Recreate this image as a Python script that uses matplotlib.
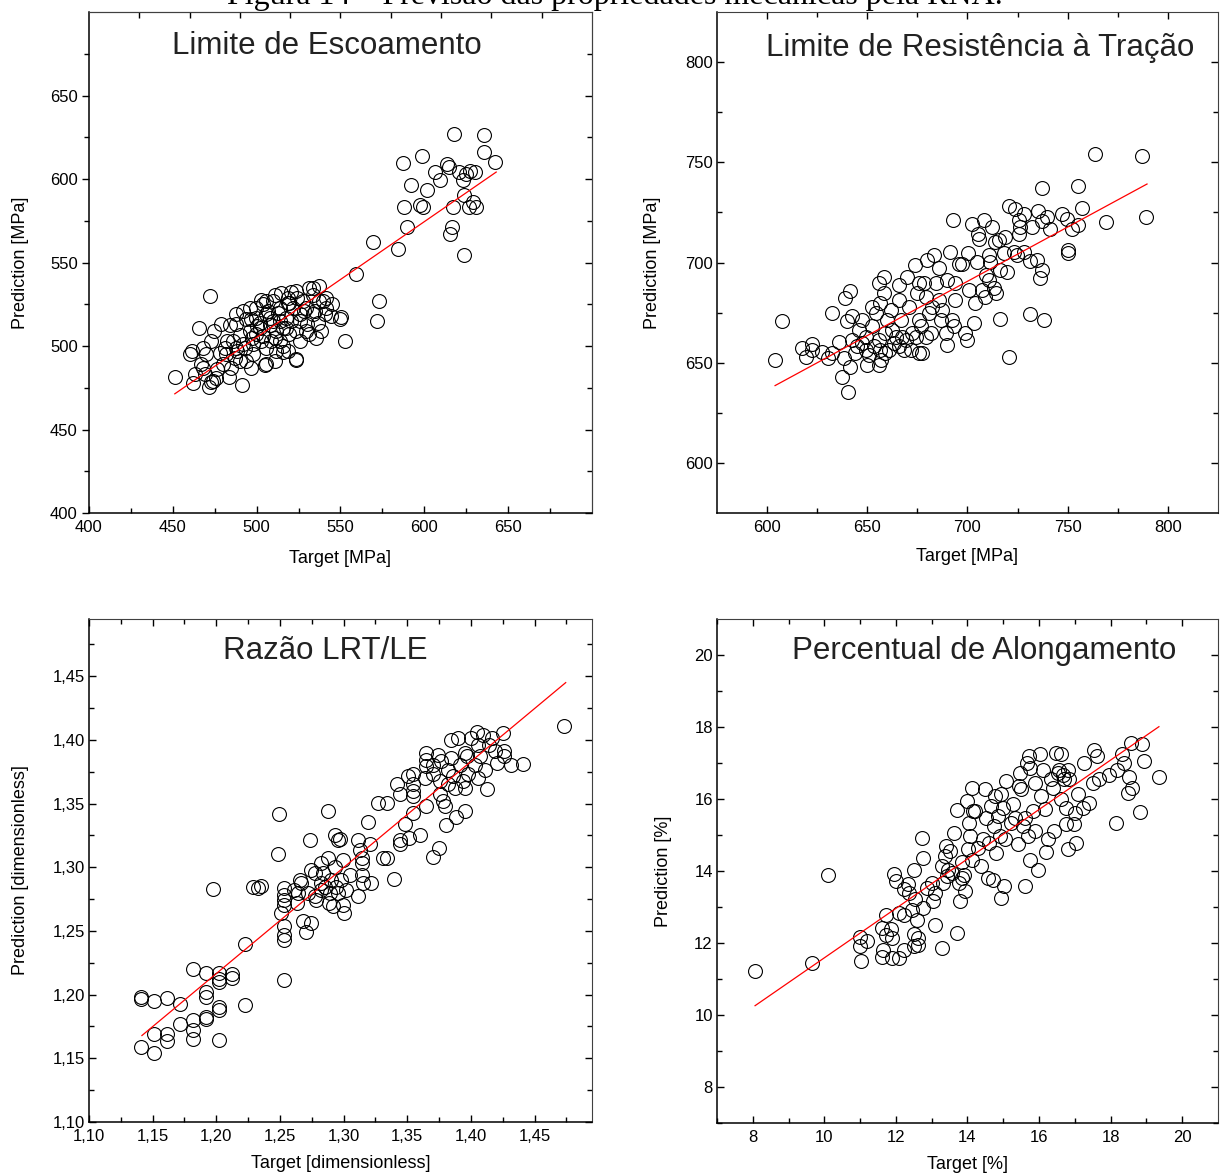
import matplotlib.pyplot as plt
from matplotlib.ticker import FixedLocator

plt.rcParams['font.family'] = ['Liberation Sans', 'DejaVu Sans']

# Limite de Escoamento (target, prediction) in MPa
le_target = [617.9, 635.7, 635.7, 642.3, 587.5, 598.8, 606.5, 613.7, 614.9, 620.8,
             625.0, 627.4, 630.4, 623.2, 609.5, 592.3, 601.8, 599.4, 588.0, 617.3,
             623.8, 626.8, 631.0, 629.2, 597.6, 589.9, 616.7, 615.5, 623.8, 584.5,
             569.6, 573.2, 572.0, 559.5, 553.0, 550.6, 472.0,
             451.2, 462.1, 471.4, 465.7, 460.5, 461.7, 468.0, 474.0, 475.6, 470.0,
             473.0, 474.4, 479.0, 482.3, 483.3, 491.3, 486.9, 491.9, 495.8, 487.9,
             489.9, 493.8, 496.8, 497.8, 496.8, 502.7, 503.7, 505.8, 505.2, 510.7,
             509.7, 514.3, 520.6, 523.6, 519.6, 515.7, 518.6, 523.6, 523.6, 531.2,
             533.5, 537.1, 539.5, 541.5, 540.5, 544.5, 550.0, 535.5, 538.5, 536.5,
             529.5, 525.6, 517.6, 513.7, 511.7, 507.7, 501.8, 499.8, 495.8, 502.7,
             508.7, 513.7, 519.6, 523.6, 517.6, 521.6, 513.7, 505.8, 499.8, 485.9,
             487.9, 481.9, 478.0, 479.9, 484.9, 489.9, 492.9, 497.8, 505.8, 511.7,
             525.6, 531.5, 533.5, 529.5, 527.5, 537.5, 541.5, 467.0, 469.0, 473.0,
             463.1, 468.0, 487.9, 483.9, 493.8, 499.8, 509.7, 510.7, 518.6, 505.8,
             533.5, 500.5, 504.0, 508.0, 512.5, 516.0, 520.5, 526.0, 530.0, 497.0,
             502.0, 507.0, 511.0, 515.5, 519.0, 524.0, 528.0, 492.0, 488.0, 481.0,
             476.5, 535.0, 545.0]
le_pred = [626.8, 626.2, 616.0, 610.0, 609.5, 613.7, 604.0, 609.0, 607.0, 604.0,
           603.0, 605.0, 604.0, 599.4, 599.4, 596.4, 593.5, 583.3, 583.3, 583.3,
           590.5, 583.3, 583.3, 586.3, 584.5, 571.4, 571.4, 567.3, 554.8, 558.3,
           562.5, 526.8, 514.9, 542.9, 503.0, 517.3, 529.8,
           481.5, 477.6, 475.6, 510.9, 495.1, 497.0, 487.1, 479.2, 481.0, 495.0,
           503.0, 509.0, 513.3, 503.0, 481.5, 476.8, 493.0, 520.8, 522.8, 513.3,
           506.9, 491.1, 487.1, 495.0, 516.0, 527.8, 525.2, 489.1, 488.5, 491.1,
           526.8, 531.7, 532.3, 532.7, 525.8, 496.4, 496.9, 491.5, 492.5, 534.7,
           530.8, 535.7, 526.8, 522.8, 518.9, 517.9, 516.0, 505.0, 509.0, 513.9,
           509.0, 514.9, 516.8, 514.9, 509.0, 512.9, 510.9, 507.0, 509.0, 503.0,
           503.0, 503.0, 507.0, 509.0, 510.9, 522.8, 522.8, 518.9, 516.8, 503.0,
           499.0, 495.0, 496.0, 489.1, 487.1, 491.1, 499.0, 501.0, 499.0, 497.0,
           503.0, 507.0, 518.9, 522.8, 526.8, 526.8, 528.8, 489.1, 483.2, 478.2,
           483.2, 499.0, 518.9, 512.9, 516.4, 522.8, 514.9, 530.8, 528.8, 526.8,
           534.7, 512.0, 506.0, 517.0, 520.0, 511.0, 515.0, 519.0, 513.0, 505.0,
           514.0, 521.0, 505.0, 500.0, 526.0, 529.0, 521.0, 501.0, 497.0, 499.0,
           486.0, 521.0, 525.0]
le_fit_x = [451.2, 642.9]
le_fit_y = [471.4, 604.2]

# Limite de Resistencia a Tracao
lrt_target = [603.8, 607.3, 617.3, 619.3, 622.3, 622.3, 627.6, 630.6, 632.5, 632.5,
              635.8, 637.2, 638.3, 638.8, 640.5, 641.3, 641.6, 640.0, 642.5, 642.5,
              643.8, 645.0, 647.5, 645.9, 647.5, 649.2, 650.0, 650.8, 652.5, 653.3,
              654.2, 655.8, 655.8, 656.6, 657.1, 658.3, 658.3, 659.1, 660.0, 660.8,
              661.6, 662.4, 663.3, 665.8, 665.8, 666.6, 667.4, 668.3, 669.9, 670.8,
              671.6, 672.5, 673.8, 675.0, 675.8, 675.8, 676.6, 677.5, 678.3, 679.1,
              680.0, 680.8, 681.6, 683.3, 684.1, 685.8, 686.6, 687.5, 689.1, 689.9,
              689.9, 691.5, 692.4, 692.9, 693.2, 694.0, 694.0, 695.7, 697.3, 699.0,
              699.8, 700.3, 700.7, 702.3, 703.7, 703.3, 704.8, 705.3, 705.6, 707.3,
              708.1, 709.0, 709.3, 710.6, 710.6, 711.4, 712.3, 713.1, 713.6, 714.0,
              715.6, 716.1, 716.4, 718.1, 718.9, 719.7, 720.5, 720.9, 723.0, 723.9,
              724.7, 725.5, 725.9, 726.4, 728.0, 728.0, 731.0, 731.3, 732.2, 734.7,
              735.2, 736.3, 737.1, 737.1, 737.1, 738.2, 739.5, 741.2, 747.0, 749.5,
              750.0, 750.0, 752.3, 755.3, 755.3, 757.3, 763.6, 769.0, 787.3, 789.3,
              649.2, 652.5, 655.8, 659.1, 664.1, 669.1, 674.1, 675.8, 682.4, 685.8,
              679.1, 656.6, 665.8]
lrt_pred = [651.3, 670.9, 657.2, 652.7, 659.3, 656.4, 655.2, 652.2, 674.9, 654.7,
            660.5, 642.8, 652.2, 682.4, 635.3, 685.9, 647.8, 670.6, 673.1, 661.5,
            654.9, 658.2, 671.4, 666.4, 659.9, 656.5, 649.1, 654.1, 678.0, 658.2,
            674.7, 649.1, 689.6, 679.7, 651.6, 692.9, 684.6, 664.7, 671.4, 656.5,
            676.4, 666.4, 659.9, 688.8, 681.3, 671.4, 663.1, 656.5, 692.9, 678.0,
            656.5, 664.7, 699.0, 684.6, 689.6, 671.4, 668.1, 654.9, 689.6, 683.0,
            701.1, 674.7, 664.7, 703.6, 689.6, 697.1, 671.4, 676.4, 664.7, 658.9,
            691.3, 705.3, 671.4, 721.4, 668.1, 681.3, 689.6, 699.5, 699.5, 664.7,
            661.5, 704.8, 686.3, 719.4, 680.0, 669.8, 700.3, 714.4, 711.9, 686.3,
            721.0, 683.0, 693.8, 703.6, 691.3, 700.3, 717.7, 687.1, 710.3, 684.6,
            711.1, 671.7, 696.3, 704.6, 712.8, 695.5, 652.9, 728.2, 705.3, 726.6,
            703.6, 721.0, 714.4, 717.7, 724.3, 705.3, 700.8, 674.1, 717.7, 701.1,
            725.9, 692.1, 737.1, 696.3, 720.9, 671.4, 722.6, 716.8, 724.3, 721.8,
            706.1, 704.8, 716.8, 718.5, 738.0, 727.1, 754.0, 720.2, 753.1, 722.6,
            663.1, 668.1, 661.5, 654.9, 663.1, 661.5, 663.1, 654.9, 678.0, 681.3,
            663.1, 656.5, 658.2]
lrt_fit_x = [604.0, 789.6]
lrt_fit_y = [638.6, 739.2]

# Razao LRT/LE
raz_target = [1.1411, 1.1411, 1.1411, 1.1513, 1.1513, 1.1513, 1.1616, 1.1616, 1.1616, 1.1714,
              1.1714, 1.1819, 1.1819, 1.1819, 1.1819, 1.1919, 1.1919, 1.1919, 1.1919, 1.1919,
              1.1972, 1.2019, 1.2019, 1.2019, 1.2019, 1.2019, 1.2019, 1.2122, 1.2122, 1.2224,
              1.2224, 1.2285, 1.2324, 1.2351, 1.2483, 1.2496, 1.2509, 1.2530, 1.2530, 1.2530,
              1.2530, 1.2530, 1.2530, 1.2530, 1.2530, 1.2614, 1.2635, 1.2654, 1.2680, 1.2701,
              1.2733, 1.2741, 1.2746, 1.2772, 1.2786, 1.2825, 1.2838, 1.2851, 1.2878, 1.2878,
              1.2883, 1.2904, 1.2917, 1.2935, 1.2943, 1.2956, 1.2970, 1.2983, 1.2996, 1.2996,
              1.3004, 1.3022, 1.3049, 1.3109, 1.3109, 1.3128, 1.3141, 1.3141, 1.3141, 1.3154,
              1.3194, 1.3207, 1.3212, 1.3270, 1.3310, 1.3344, 1.3344, 1.3397, 1.3423, 1.3444,
              1.3444, 1.3444, 1.3481, 1.3507, 1.3515, 1.3544, 1.3544, 1.3544, 1.3544, 1.3544,
              1.3597, 1.3636, 1.3649, 1.3649, 1.3649, 1.3649, 1.3702, 1.3702, 1.3702, 1.3741,
              1.3749, 1.3754, 1.3754, 1.3767, 1.3780, 1.3799, 1.3802, 1.3820, 1.3820, 1.3846,
              1.3846, 1.3859, 1.3872, 1.3886, 1.3899, 1.3912, 1.3938, 1.3952, 1.3952, 1.3957,
              1.3965, 1.3978, 1.4004, 1.4030, 1.4044, 1.4057, 1.4057, 1.4070, 1.4096, 1.4109,
              1.4122, 1.4141, 1.4162, 1.4188, 1.4201, 1.4254, 1.4262, 1.4262, 1.4314, 1.4412,
              1.4733, 1.2667, 1.2720, 1.2825, 1.2891, 1.2930, 1.2956, 1.2772, 1.2641, 1.2825]
raz_pred = [1.1968, 1.1980, 1.1586, 1.1952, 1.1688, 1.1541, 1.1973, 1.1688, 1.1636, 1.1929,
            1.1769, 1.2201, 1.1800, 1.1722, 1.1650, 1.2170, 1.2020, 1.1980, 1.1826, 1.1808,
            1.2829, 1.2170, 1.2124, 1.2098, 1.1904, 1.1878, 1.1645, 1.2163, 1.2129, 1.2395,
            1.1922, 1.2849, 1.2836, 1.2854, 1.3107, 1.3418, 1.2642, 1.2836, 1.2785, 1.2746,
            1.2707, 1.2539, 1.2466, 1.2430, 1.2111, 1.2823, 1.2720, 1.2901, 1.2578, 1.2495,
            1.3216, 1.2978, 1.2565, 1.2772, 1.2746, 1.3030, 1.2952, 1.2849, 1.3069, 1.3444,
            1.2720, 1.2901, 1.2694, 1.3250, 1.2849, 1.3216, 1.3224, 1.2901, 1.3056, 1.2707,
            1.2642, 1.2823, 1.2939, 1.3211, 1.2777, 1.3133, 1.3069, 1.3030, 1.2939, 1.2875,
            1.3358, 1.3185, 1.2875, 1.3501, 1.3069, 1.3501, 1.3069, 1.2906, 1.3651, 1.3573,
            1.3211, 1.3180, 1.3340, 1.3716, 1.3232, 1.3729, 1.3651, 1.3599, 1.3560, 1.3423,
            1.3250, 1.3703, 1.3483, 1.3897, 1.3845, 1.3793, 1.3082, 1.3806, 1.3729, 1.3884,
            1.3154, 1.3677, 1.3573, 1.3832, 1.3521, 1.3483, 1.3333, 1.3767, 1.3651, 1.4000,
            1.3858, 1.3716, 1.3625, 1.3397, 1.4018, 1.3806, 1.3677, 1.3897, 1.3620, 1.3439,
            1.3871, 1.3729, 1.4013, 1.3806, 1.4065, 1.3703, 1.3962, 1.3871, 1.4039, 1.3760,
            1.3612, 1.3962, 1.4013, 1.3910, 1.3819, 1.4052, 1.3910, 1.3871, 1.3806, 1.3812,
            1.4111, 1.2875, 1.2798, 1.2823, 1.2798, 1.3004, 1.2798, 1.2952, 1.2798, 1.2875]
raz_fit_x = [1.1416, 1.4744]
raz_fit_y = [1.1679, 1.4450]

# Percentual de Alongamento
al_target = [8.06, 9.65, 10.09, 10.99, 10.99, 11.03, 11.20, 11.60, 11.60, 11.64,
             11.71, 11.73, 11.85, 11.88, 11.89, 11.94, 11.99, 12.08, 12.08, 12.22,
             12.22, 12.24, 12.34, 12.36, 12.45, 12.50, 12.50, 12.52, 12.54, 12.59,
             12.62, 12.63, 12.73, 12.75, 12.75, 12.87, 13.00, 13.03, 13.08, 13.10,
             13.28, 13.28, 13.33, 13.38, 13.39, 13.42, 13.47, 13.51, 13.56, 13.63,
             13.70, 13.70, 13.75, 13.79, 13.84, 13.84, 13.89, 13.93, 13.98, 14.01,
             14.04, 14.07, 14.12, 14.12, 14.16, 14.21, 14.30, 14.39, 14.44, 14.49,
             14.51, 14.58, 14.60, 14.67, 14.72, 14.75, 14.77, 14.81, 14.86, 14.90,
             14.95, 14.95, 14.99, 15.03, 15.04, 15.09, 15.23, 15.28, 15.34, 15.40,
             15.43, 15.46, 15.51, 15.55, 15.60, 15.62, 15.65, 15.69, 15.72, 15.74,
             15.74, 15.83, 15.88, 15.90, 15.97, 16.02, 16.06, 16.11, 16.16, 16.20,
             16.25, 16.34, 16.39, 16.42, 16.48, 16.53, 16.57, 16.62, 16.62, 16.66,
             16.71, 16.76, 16.76, 16.80, 16.82, 16.85, 16.99, 17.01, 17.04, 17.08,
             17.22, 17.27, 17.41, 17.50, 17.53, 17.62, 17.68, 17.96, 18.15, 18.19,
             18.33, 18.38, 18.49, 18.51, 18.59, 18.57, 18.82, 18.89, 18.94, 19.35]
al_pred = [11.23, 11.44, 13.88, 12.17, 11.91, 11.49, 12.05, 12.42, 11.61, 11.82,
           12.21, 12.79, 12.40, 11.59, 12.14, 13.93, 13.72, 12.84, 11.59, 11.80,
           13.49, 12.79, 13.63, 13.39, 12.93, 12.24, 11.91, 14.02, 13.21, 12.65,
           12.14, 11.95, 14.92, 14.37, 12.98, 13.53, 13.67, 13.16, 12.51, 13.39,
           14.14, 11.86, 13.67, 14.41, 14.69, 13.86, 14.04, 14.55, 13.95, 15.06,
           12.28, 15.69, 13.67, 13.16, 14.25, 13.81, 13.90, 13.44, 15.94, 14.60,
           15.34, 14.97, 16.31, 14.32, 15.66, 15.66, 14.64, 14.14, 14.88, 16.27,
           15.48, 13.81, 14.79, 15.80, 13.76, 15.25, 16.08, 14.51, 15.53, 14.97,
           16.13, 13.25, 15.76, 13.58, 14.88, 16.50, 15.34, 15.85, 15.48, 14.74,
           16.36, 16.73, 16.27, 15.25, 15.48, 13.58, 17.01, 14.97, 17.19, 14.30,
           16.87, 15.66, 16.45, 15.11, 14.04, 17.24, 16.08, 16.82, 15.71, 14.53,
           14.88, 16.55, 16.31, 15.11, 17.28, 16.73, 16.82, 17.24, 15.99, 16.68,
           16.55, 15.76, 15.32, 16.82, 14.62, 16.55, 15.30, 15.62, 14.79, 16.13,
           15.76, 17.01, 15.90, 16.45, 17.36, 17.19, 16.55, 16.68, 15.34, 16.82,
           17.24, 17.01, 16.17, 16.62, 16.31, 17.55, 15.65, 17.52, 17.05, 16.62]
al_fit_x = [8.065, 19.35]
al_fit_y = [10.26, 18.01]

raz_labels = ['1,10', '1,15', '1,20', '1,25', '1,30', '1,35', '1,40', '1,45']

fig = plt.figure(figsize=(12.22, 11.74), dpi=100)

# caption of the page, mostly cut off at the top
fig.text(0.503, 0.9962, 'Figura 14 – Previsão das propriedades mecânicas pela RNA.',
         family='Liberation Serif', fontsize=23, ha='center', va='baseline')

panels = [
    dict(pos=[0.0728, 0.5630, 0.4116, 0.4267], x=le_target, y=le_pred, fx=le_fit_x, fy=le_fit_y,
         lim=(400, 700), major=[400, 450, 500, 550, 600, 650], minor=[425, 475, 525, 575, 625, 675],
         top=[430, 460, 490, 520, 550, 580, 610, 640, 670], labels=None,
         title='Limite de Escoamento', tpos=(0.473, 0.932),
         xlabel='Target [MPa]', ylabel='Prediction [MPa]', xl=-0.090, yl=-0.137, ydir='out'),
    dict(pos=[0.5867, 0.5630, 0.4100, 0.4267], x=lrt_target, y=lrt_pred, fx=lrt_fit_x, fy=lrt_fit_y,
         lim=(575, 825), major=[600, 650, 700, 750, 800], minor=[625, 675, 725, 775],
         top=None, labels=None,
         title='Limite de Resistência à Tração', tpos=(0.525, 0.928),
         xlabel='Target [MPa]', ylabel='Prediction [MPa]', xl=-0.086, yl=-0.128, ydir='in'),
    dict(pos=[0.0728, 0.0443, 0.4116, 0.4285], x=raz_target, y=raz_pred, fx=raz_fit_x, fy=raz_fit_y,
         lim=(1.10, 1.495), major=[1.10, 1.15, 1.20, 1.25, 1.30, 1.35, 1.40, 1.45],
         minor=[1.125, 1.175, 1.225, 1.275, 1.325, 1.375, 1.425, 1.475],
         top=None, labels=raz_labels,
         title='Razão LRT/LE', tpos=(0.469, 0.936),
         xlabel='Target [dimensionless]', ylabel='Prediction [dimensionless]', xl=-0.082, yl=-0.137, ydir='in'),
    dict(pos=[0.5867, 0.0434, 0.4100, 0.4293], x=al_target, y=al_pred, fx=al_fit_x, fy=al_fit_y,
         lim=(7, 21), major=[8, 10, 12, 14, 16, 18, 20], minor=[7, 9, 11, 13, 15, 17, 19],
         top=None, labels=None,
         title='Percentual de Alongamento', tpos=(0.533, 0.936),
         xlabel='Target [%]', ylabel='Prediction [%]', xl=-0.083, yl=-0.106, ydir='in'),
]

for p in panels:
    ax = fig.add_axes(p['pos'])
    ax.plot(p['x'], p['y'], 'o', mfc='none', mec='black', ms=10, mew=0.8, ls='none')
    ax.plot(p['fx'], p['fy'], color='red', lw=0.9)
    ax.set_xlim(p['lim'])
    ax.set_ylim(p['lim'])
    ax.set_xticks(p['major'])
    ax.set_yticks(p['major'])
    ax.xaxis.set_minor_locator(FixedLocator(p['minor']))
    ax.yaxis.set_minor_locator(FixedLocator(p['minor']))
    if p['labels'] is not None:
        ax.set_xticklabels(p['labels'])
        ax.set_yticklabels(p['labels'])
    ax.tick_params(axis='x', which='both', direction='in', labelsize=12, pad=5,
                   top=(p['top'] is None))
    ax.tick_params(axis='y', which='both', direction=p['ydir'], labelsize=12, pad=3,
                   right=(p['ydir'] == 'in'))
    ax.tick_params(which='major', length=5, width=1)
    ax.tick_params(which='minor', length=3.5, width=1)
    if p['top'] is not None:
        sec = ax.secondary_xaxis('top')
        sec.set_xticks(p['top'])
        sec.tick_params(direction='in', length=4, width=1, labeltop=False)
        sec.spines['top'].set_color('#404040')
    if p['ydir'] == 'out':
        sec_r = ax.secondary_yaxis('right')
        sec_r.set_yticks(p['major'])
        sec_r.yaxis.set_minor_locator(FixedLocator(p['minor']))
        sec_r.tick_params(which='both', direction='in', width=1, labelright=False)
        sec_r.tick_params(which='major', length=5)
        sec_r.tick_params(which='minor', length=3.5)
        sec_r.spines['right'].set_color('#404040')
    for s in ['top', 'right']:
        ax.spines[s].set_color('#404040')
    ax.spines['left'].set_linewidth(1.1)
    ax.spines['bottom'].set_linewidth(1.1)
    ax.text(p['tpos'][0], p['tpos'][1], p['title'], transform=ax.transAxes,
            fontsize=22.5, ha='center', va='center', color='#222222')
    ax.set_xlabel(p['xlabel'], fontsize=13, va='center')
    ax.set_ylabel(p['ylabel'], fontsize=13, va='center')
    ax.xaxis.set_label_coords(0.5, p['xl'])
    ax.yaxis.set_label_coords(p['yl'], 0.5)

fig.savefig('out.png', dpi=100)
